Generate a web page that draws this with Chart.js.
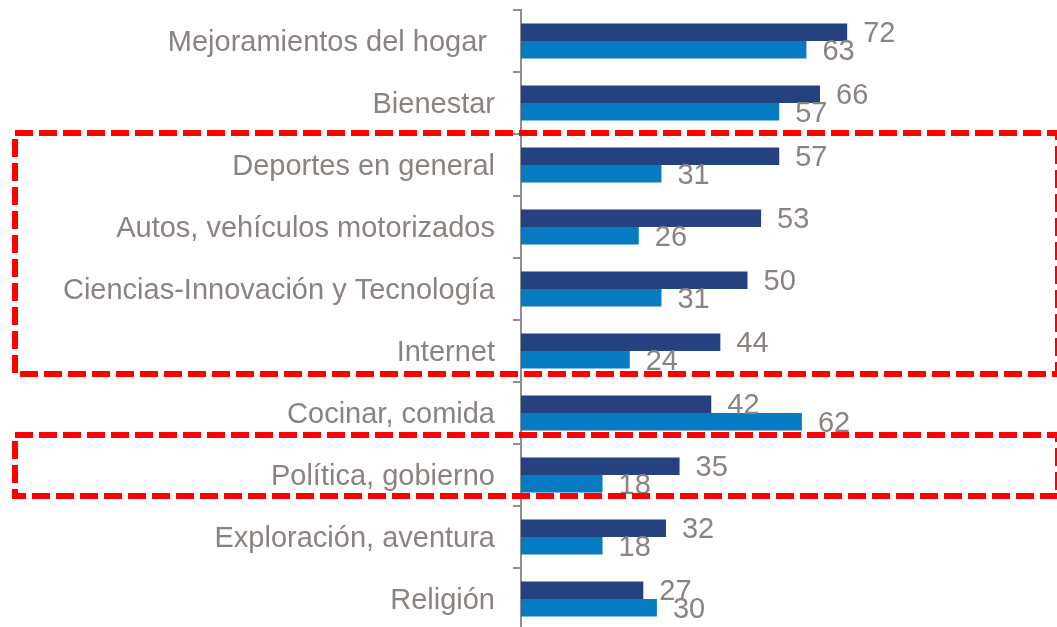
<!DOCTYPE html>
<html>
<head>
<meta charset="utf-8">
<script src="https://cdn.jsdelivr.net/npm/chart.js@4.4.1/dist/chart.umd.min.js"></script>
<style>
  html, body { margin: 0; padding: 0; background: #fff; }
  #wrap { width: 1057px; height: 627px; overflow: hidden; }
</style>
</head>
<body>
<div id="wrap"><canvas id="chart" width="1057" height="640"></canvas></div>
<script>
// categories, top to bottom
const categories = [
  'Mejoramientos del hogar ',
  'Bienestar',
  'Deportes en general',
  'Autos, vehículos motorizados',
  'Ciencias-Innovación y Tecnología',
  'Internet',
  'Cocinar, comida',
  'Política, gobierno',
  'Exploración, aventura',
  'Religión'
];
const serieA = [72, 66, 57, 53, 50, 44, 42, 35, 32, 27];
const serieB = [63, 57, 31, 26, 31, 24, 62, 18, 18, 30];

// groups framed with the red dashed boxes (first, last category index)
const boxedGroups = [[2, 5], [7, 7]];

const gray = '#8a837f';
const font = '"Liberation Sans", Arial, sans-serif';

// value labels to the right of every bar
const valueLabels = {
  id: 'valueLabels',
  afterDatasetsDraw(chart) {
    const ctx = chart.ctx;
    ctx.save();
    ctx.font = '29px ' + font;
    ctx.fillStyle = gray;
    ctx.textAlign = 'left';
    ctx.textBaseline = 'middle';
    chart.data.datasets.forEach((ds, i) => {
      chart.getDatasetMeta(i).data.forEach((bar, j) => {
        ctx.fillText(String(ds.data[j]), bar.x + 16, bar.y + 2);
      });
    });
    ctx.restore();
  }
};

// red dashed frames around some categories
const redBoxes = {
  id: 'redBoxes',
  afterDraw(chart) {
    const ctx = chart.ctx;
    const y = chart.scales.y;
    ctx.save();
    ctx.strokeStyle = '#ff0000';
    ctx.lineWidth = 6;
    ctx.setLineDash([18, 6]);
    boxedGroups.forEach(([a, b], k) => {
      const top = y.getPixelForValue(a) - (k === 0 ? 32 : 40);
      const bottom = y.getPixelForValue(b) + (k === 0 ? 23 : 21);
      ctx.strokeRect(15, top, 1043, bottom - top);
    });
    ctx.restore();
  }
};

new Chart(document.getElementById('chart'), {
  type: 'bar',
  data: {
    labels: categories,
    datasets: [
      { data: serieA, backgroundColor: '#264180' },
      { data: serieB, backgroundColor: '#077bc2' }
    ]
  },
  options: {
    indexAxis: 'y',
    responsive: false,
    animation: false,
    devicePixelRatio: 1,
    layout: { padding: { top: 10, bottom: 10, left: 0, right: 15 } },
    datasets: { bar: { categoryPercentage: 0.565, barPercentage: 1 } },
    plugins: { legend: { display: false }, tooltip: { enabled: false } },
    scales: {
      x: { display: false, min: 0, max: 115 },
      y: {
        afterFit(scale) {
          scale.width = 521;
          scale.paddingTop = 0;
          scale.paddingBottom = 0;
        },
        border: { display: true, color: '#8e8e8e', width: 2 },
        grid: { drawOnChartArea: false, tickLength: 8, color: '#8e8e8e', lineWidth: 2 },
        ticks: { color: gray, font: { family: font, size: 29 }, padding: 18, labelOffset: 2, autoSkip: false }
      }
    }
  },
  plugins: [valueLabels, redBoxes]
});
</script>
</body>
</html>
